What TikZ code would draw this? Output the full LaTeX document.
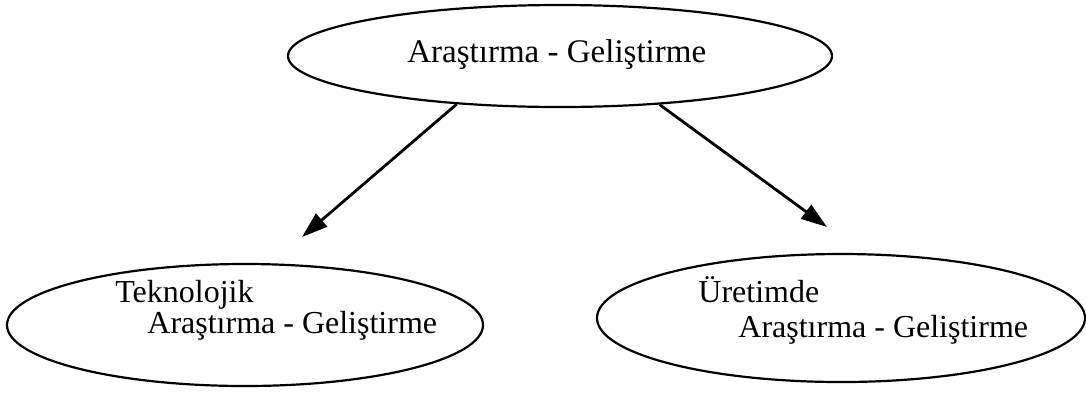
\documentclass[tikz,border=0pt]{standalone}
\usepackage{fontspec}
\setmainfont{Liberation Serif}
\usetikzlibrary{shapes.geometric,arrows.meta}
\begin{document}
\begin{tikzpicture}[x=0.5pt,y=-0.5pt,
  oval/.style={draw, ellipse, line width=1.1pt, inner sep=0pt},
  lbl/.style={inner sep=0pt, anchor=base west, font=\fontsize{16}{19}\selectfont},
  arr/.style={line width=1.4pt, -{Triangle[length=13pt,width=8.5pt]}}]
\useasboundingbox (0,0) rectangle (1086,393);
\node[oval, minimum width=272pt, minimum height=51pt] (top) at (560,56) {};
\node[oval, minimum width=238pt, minimum height=61pt] (left) at (245,325) {};
\node[oval, minimum width=244pt, minimum height=64pt] (right) at (841,318) {};
\node[lbl, font=\fontsize{16.5}{19}\selectfont] (ttop) at (407,62) {Araştırma - Geliştirme};
\node[lbl] (tl1) at (115,302) {Teknolojik};
\node[lbl] (tl2) at (147,333) {Araştırma - Geliştirme};
\node[lbl] (tr1) at (698,302) {Üretimde};
\node[lbl] (tr2) at (738,337) {Araştırma - Geliştirme};
\coordinate (tipL) at (302,237);
\coordinate (tipR) at (827,227);
\draw[arr] (top.205) -- (tipL);
\draw[arr] (top.334) -- (tipR);
\end{tikzpicture}
\end{document}
